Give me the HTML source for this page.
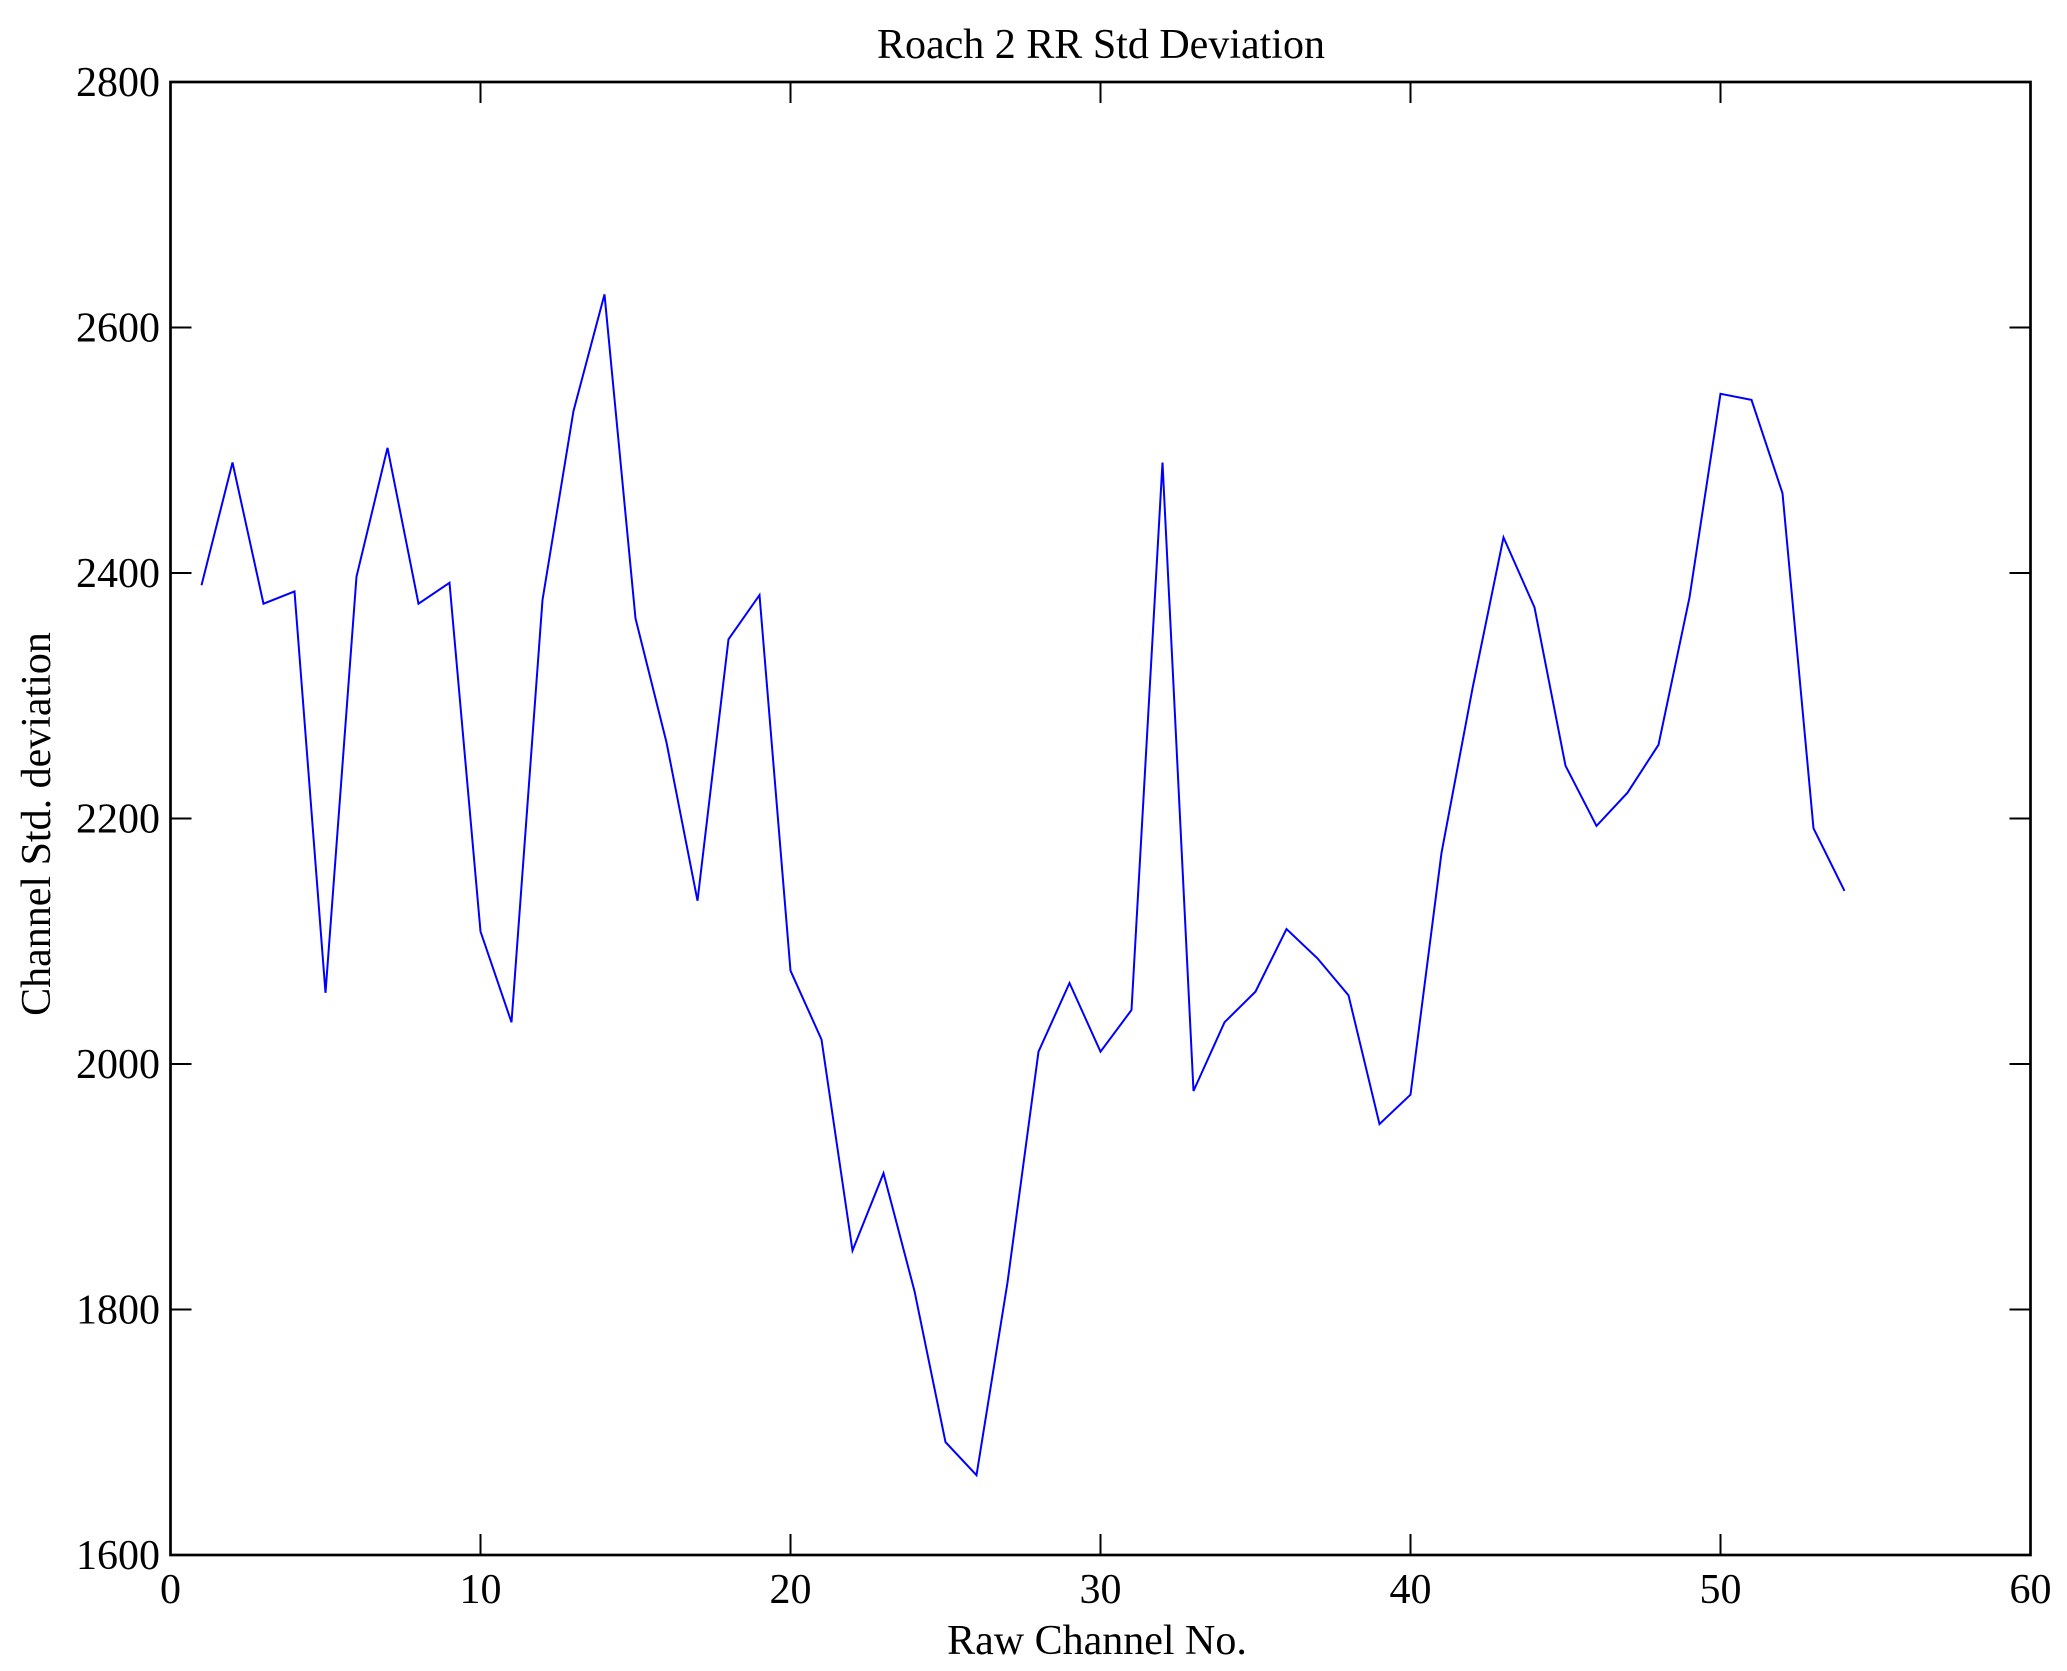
<!DOCTYPE html>
<html><head><meta charset="utf-8"><style>
html,body{margin:0;padding:0;background:#fff;}
svg{display:block;}
text{font-family:"Liberation Serif","DejaVu Serif",serif;fill:#000;}
</style></head><body>
<svg id="s" width="2067" height="1671" viewBox="0 0 2067 1671" xmlns="http://www.w3.org/2000/svg">
<rect width="2067" height="1671" fill="#fff"/>
<text x="1101" y="58" font-size="42" text-anchor="middle">Roach 2 RR Std Deviation</text>
<text x="1097" y="1654" font-size="42" text-anchor="middle">Raw Channel No.</text>
<text transform="translate(50,824) rotate(-90)" font-size="42" text-anchor="middle">Channel Std. deviation</text>
<g id="ticks" stroke="#000" stroke-width="2"></g>
<g id="labels" font-size="42"></g>
<polyline id="line" fill="none" stroke="#0000ff" stroke-width="2" stroke-linejoin="miter"/>
<rect x="170.5" y="82" width="1860" height="1473" fill="none" stroke="#000" stroke-width="2.7"/>
</svg>
<script>
var L=170.5,R=2030.5,T=82,B=1555;
function X(v){return L+(v/60)*(R-L);}
function Y(v){return B-(v-1600)/1200*(B-T);}
var d=[2390,2490,2375,2385,2058,2397,2502,2375,2392,2108,2034,2378,2532,2627,2363,2262,2133,2346,2382,2076,2020,1848,1911,1815,1692,1665,1822,2010,2066,2010,2044,2490,1978,2034,2059,2110,2086,2056,1951,1975,2172,2306,2429,2372,2243,2194,2221,2260,2380,2546,2541,2465,2192,2141];
var p=d.map(function(v,i){return X(i+1).toFixed(1)+","+Y(v).toFixed(1)}).join(" ");
document.getElementById("line").setAttribute("points",p);
var t="",l="";
for(var x=0;x<=60;x+=10){var xx=X(x);
t+='<line x1="'+xx+'" y1="'+B+'" x2="'+xx+'" y2="'+(B-21)+'"/><line x1="'+xx+'" y1="'+T+'" x2="'+xx+'" y2="'+(T+21)+'"/>';
l+='<text x="'+xx+'" y="1603" text-anchor="middle">'+x+'</text>';}
for(var y=1600;y<=2800;y+=200){var yy=Y(y);
t+='<line x1="'+L+'" y1="'+yy+'" x2="'+(L+21)+'" y2="'+yy+'"/><line x1="'+R+'" y1="'+yy+'" x2="'+(R-21)+'" y2="'+yy+'"/>';
l+='<text x="160" y="'+(yy+14)+'" text-anchor="end">'+y+'</text>';}
document.getElementById("ticks").innerHTML=t;
document.getElementById("labels").innerHTML=l;
</script>
</body></html>
